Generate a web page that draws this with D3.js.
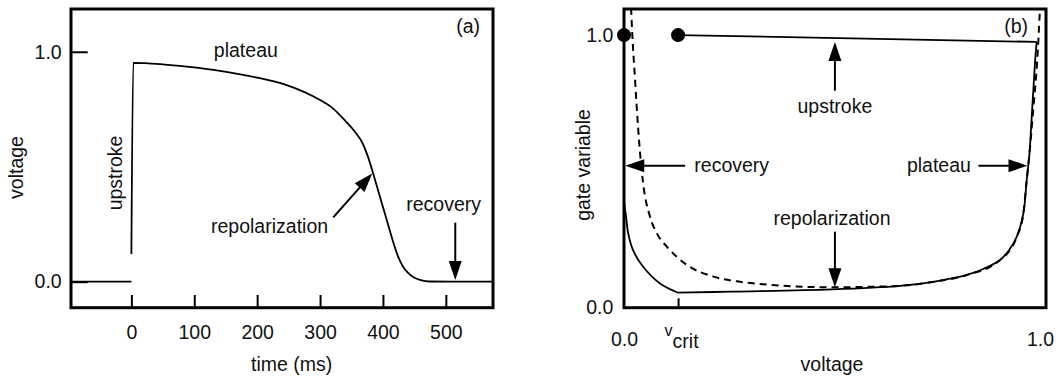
<!DOCTYPE html>
<html>
<head>
<meta charset="utf-8">
<script src="https://cdn.jsdelivr.net/npm/d3@7"></script>
<style>
  body { margin: 0; background: #fff; }
  text { font-family: "Liberation Sans", Arial, sans-serif; font-size: 19.5px; fill: #111; }
</style>
</head>
<body>
<script>
// panel (a): action potential, time (ms) vs voltage
var restTime = [-96, 0];
var restVolt = [0, 0];
var apTime = [0, 3, 50, 88, 141, 194, 247, 300, 320, 340, 356, 368, 376, 384, 392, 400, 408, 416, 424, 432, 440, 448, 460, 474, 575];
var apVolt = [0.12, 0.952, 0.945, 0.935, 0.917, 0.891, 0.855, 0.79, 0.755, 0.70, 0.65, 0.60, 0.545, 0.475, 0.40, 0.325, 0.25, 0.175, 0.11, 0.065, 0.038, 0.02, 0.007, 0.001, 0];
var timeTicks = [0, 100, 200, 300, 400, 500];
var voltTicks = [0, 1];

// panel (b): phase plane, voltage vs gate variable
var vCrit = 0.13;
var nullV = [0.017, 0.02, 0.026, 0.03, 0.038, 0.046, 0.0625, 0.08, 0.103, 0.151, 0.215, 0.279, 0.343, 0.45, 0.506, 0.60, 0.663, 0.744, 0.824, 0.904, 0.944, 0.96, 0.968, 0.975, 0.985, 0.993, 1.0];
var nullH = [1.10, 1.0, 0.85, 0.75, 0.578, 0.456, 0.334, 0.27, 0.224, 0.157, 0.114, 0.095, 0.085, 0.076, 0.075, 0.077, 0.08, 0.095, 0.12, 0.175, 0.26, 0.346, 0.468, 0.572, 0.75, 0.90, 1.10];
var trajV = [0.13, 0.992, 0.988, 0.984, 0.98, 0.975, 0.968, 0.96, 0.944, 0.925, 0.904, 0.865, 0.824, 0.744, 0.663, 0.5, 0.26, 0.13, 0.0865, 0.046, 0.022, 0.01, 0.005, 0, 0];
var trajH = [1.0, 0.975, 0.90, 0.80, 0.70, 0.572, 0.468, 0.346, 0.26, 0.21, 0.175, 0.143, 0.12, 0.095, 0.08, 0.067, 0.059, 0.055, 0.089, 0.15, 0.21, 0.273, 0.334, 0.395, 1.0];
var dotV = [0, vCrit];
var dotH = [1, 1];
var unitTicks = [0, vCrit, 1];

var svg = d3.select("body").append("svg")
    .attr("width", 1061)
    .attr("height", 380);

// set the ranges
var xa = d3.scaleLinear().domain([-96, 575]).range([71, 493]);
var ya = d3.scaleLinear().domain([-0.113, 1.186]).range([307.7, 9]);
var xb = d3.scaleLinear().domain([0, 1.0144]).range([624, 1046]);
var yb = d3.scaleLinear().domain([0, 1.0957]).range([307.7, 9]);

var defs = svg.append("defs");
function clipFor(id, x, y) {
    defs.append("clipPath").attr("id", id).append("rect")
        .attr("x", x.range()[0]).attr("y", y.range()[1])
        .attr("width", x.range()[1] - x.range()[0])
        .attr("height", y.range()[0] - y.range()[1]);
}
clipFor("clipA", xa, ya);
clipFor("clipB", xb, yb);

function zip(a, b) { return a.map(function(d, i){ return [d, b[i]]; }); }

// arrow with filled head, ends exactly at the tip
function arrow(x1, y1, x2, y2) {
    var dx = x2 - x1, dy = y2 - y1, len = Math.sqrt(dx*dx + dy*dy);
    var ux = dx / len, uy = dy / len, hl = 19, hw = 6.5;
    var bx = x2 - ux*hl, by = y2 - uy*hl;
    svg.append("line")
        .attr("x1", x1).attr("y1", y1).attr("x2", bx + ux*2).attr("y2", by + uy*2)
        .attr("stroke", "#000").attr("stroke-width", 2);
    svg.append("path")
        .attr("d", "M" + x2 + "," + y2 + "L" + (bx - uy*hw) + "," + (by + ux*hw) +
            "L" + (bx + uy*hw) + "," + (by - ux*hw) + "Z")
        .attr("fill", "#000");
}

function styleAxis(g) {
    g.attr("font-size", null).attr("font-family", null);
    g.select(".domain").remove();
    g.selectAll(".tick line").attr("stroke", "#000").attr("stroke-width", 2);
    g.selectAll(".tick text").attr("fill", "#111");
}

// ---------- panel (a) ----------
var lineA = d3.line()
    .x(function(d){ return xa(d[0]); })
    .y(function(d){ return ya(d[1]); });

var gA = svg.append("g").attr("clip-path", "url(#clipA)");
gA.append("path")
    .attr("d", lineA(zip(restTime, restVolt)))
    .attr("fill", "none").attr("stroke", "#000").attr("stroke-width", 1.8);
gA.append("path")
    .attr("d", lineA.curve(d3.curveMonotoneX)(zip(apTime, apVolt)))
    .attr("fill", "none").attr("stroke", "#000").attr("stroke-width", 1.8);

svg.append("g")
    .attr("transform", "translate(0," + ya.range()[0] + ")")
    .call(d3.axisBottom(xa).tickValues(timeTicks).tickSize(-12.7).tickPadding(17.5))
    .call(styleAxis);

svg.append("g")
    .attr("transform", "translate(" + xa.range()[0] + ",0)")
    .call(d3.axisLeft(ya).tickValues(voltTicks).tickSize(-16.7).tickPadding(9.3).tickFormat(d3.format(".1f")))
    .call(styleAxis);

svg.append("rect")
    .attr("x", xa.range()[0]).attr("y", ya.range()[1])
    .attr("width", xa.range()[1] - xa.range()[0])
    .attr("height", ya.range()[0] - ya.range()[1])
    .attr("fill", "none").attr("stroke", "#000").attr("stroke-width", 3);

// labels
svg.append("text").text("time (ms)")
    .attr("x", 291.7).attr("y", 371).attr("text-anchor", "middle");
svg.append("text").text("voltage")
    .attr("text-anchor", "middle")
    .attr("transform", "translate(23,167.5) rotate(-90)");
svg.append("text").text("(a)")
    .attr("x", 480).attr("y", 33).attr("text-anchor", "end");

svg.append("text").text("plateau")
    .attr("x", xa(182)).attr("y", ya(0.977)).attr("text-anchor", "middle");
svg.append("text").text("upstroke")
    .attr("text-anchor", "middle")
    .attr("transform", "translate(" + xa(-15) + "," + ya(0.473) + ") rotate(-90)");
svg.append("text").text("repolarization")
    .attr("x", xa(219.7)).attr("y", ya(0.21)).attr("text-anchor", "middle");
arrow(xa(321), ya(0.28), xa(383), ya(0.471));
svg.append("text").text("recovery")
    .attr("x", xa(496.5)).attr("y", ya(0.307)).attr("text-anchor", "middle");
arrow(xa(515), ya(0.257), xa(515), ya(0.007));

// ---------- panel (b) ----------
var lineB = d3.line()
    .x(function(d){ return xb(d[0]); })
    .y(function(d){ return yb(d[1]); });

var traj = zip(trajV, trajH);
var cornerTop = 1;                          // end of upstroke
var cornerCrit = trajV.lastIndexOf(vCrit);  // end of repolarization

var gB = svg.append("g").attr("clip-path", "url(#clipB)");
gB.append("path")
    .attr("d", lineB.curve(d3.curveMonotoneX)(zip(nullV, nullH)))
    .attr("fill", "none").attr("stroke", "#000").attr("stroke-width", 2)
    .attr("stroke-dasharray", "7,5");
[[0, cornerTop + 1, d3.curveLinear],
 [cornerTop, cornerCrit + 1, d3.curveCatmullRom.alpha(0.5)],
 [cornerCrit, traj.length, d3.curveCatmullRom.alpha(0.5)]].forEach(function(s){
    gB.append("path")
        .attr("d", lineB.curve(s[2])(traj.slice(s[0], s[1])))
        .attr("fill", "none").attr("stroke", "#000").attr("stroke-width", 1.8);
});

var axB = svg.append("g")
    .attr("transform", "translate(0," + yb.range()[0] + ")")
    .call(d3.axisBottom(xb).tickValues(unitTicks).tickSize(-9.4).tickPadding(24.5).tickFormat(d3.format(".1f")))
    .call(styleAxis);
axB.selectAll(".tick").filter(function(d){ return d !== vCrit; }).select("line").remove();
var critText = axB.selectAll(".tick").filter(function(d){ return d === vCrit; }).select("text")
    .text(null).attr("dy", null).attr("dx", 3);
critText.append("tspan").text("v").attr("font-size", 16).attr("dy", 4.3);
critText.append("tspan").text("crit").attr("dy", 11.8);

svg.append("g")
    .attr("transform", "translate(" + xb.range()[0] + ",0)")
    .call(d3.axisLeft(yb).tickValues([0, 1]).tickSize(0).tickPadding(10.7).tickFormat(d3.format(".1f")))
    .call(styleAxis);

svg.append("rect")
    .attr("x", xb.range()[0]).attr("y", yb.range()[1])
    .attr("width", xb.range()[1] - xb.range()[0])
    .attr("height", yb.range()[0] - yb.range()[1])
    .attr("fill", "none").attr("stroke", "#000").attr("stroke-width", 3);

svg.selectAll(".dot")
    .data(zip(dotV, dotH))
    .enter().append("circle")
    .attr("class", "dot")
    .attr("cx", function(d){ return xb(d[0]); })
    .attr("cy", function(d){ return yb(d[1]); })
    .attr("r", 7)
    .attr("fill", "#000");

svg.append("text").text("voltage")
    .attr("x", 832).attr("y", 371).attr("text-anchor", "middle");
svg.append("text").text("gate variable")
    .attr("text-anchor", "middle")
    .attr("transform", "translate(589.5,165) rotate(-90)");
svg.append("text").text("(b)")
    .attr("x", 1028).attr("y", 33).attr("text-anchor", "end");

svg.append("text").text("upstroke")
    .attr("x", xb(0.507)).attr("y", yb(0.713)).attr("text-anchor", "middle");
arrow(xb(0.507), yb(0.796), xb(0.507), yb(0.975));
svg.append("text").text("repolarization")
    .attr("x", xb(0.5)).attr("y", yb(0.303)).attr("text-anchor", "middle");
arrow(xb(0.507), yb(0.279), xb(0.507), yb(0.075));
svg.append("text").text("recovery")
    .attr("x", xb(0.169)).attr("y", yb(0.499));
arrow(xb(0.147), yb(0.521), xb(0.003), yb(0.521));
svg.append("text").text("plateau")
    .attr("x", xb(0.68)).attr("y", yb(0.499));
arrow(xb(0.852), yb(0.521), xb(0.97), yb(0.521));
</script>
</body>
</html>
